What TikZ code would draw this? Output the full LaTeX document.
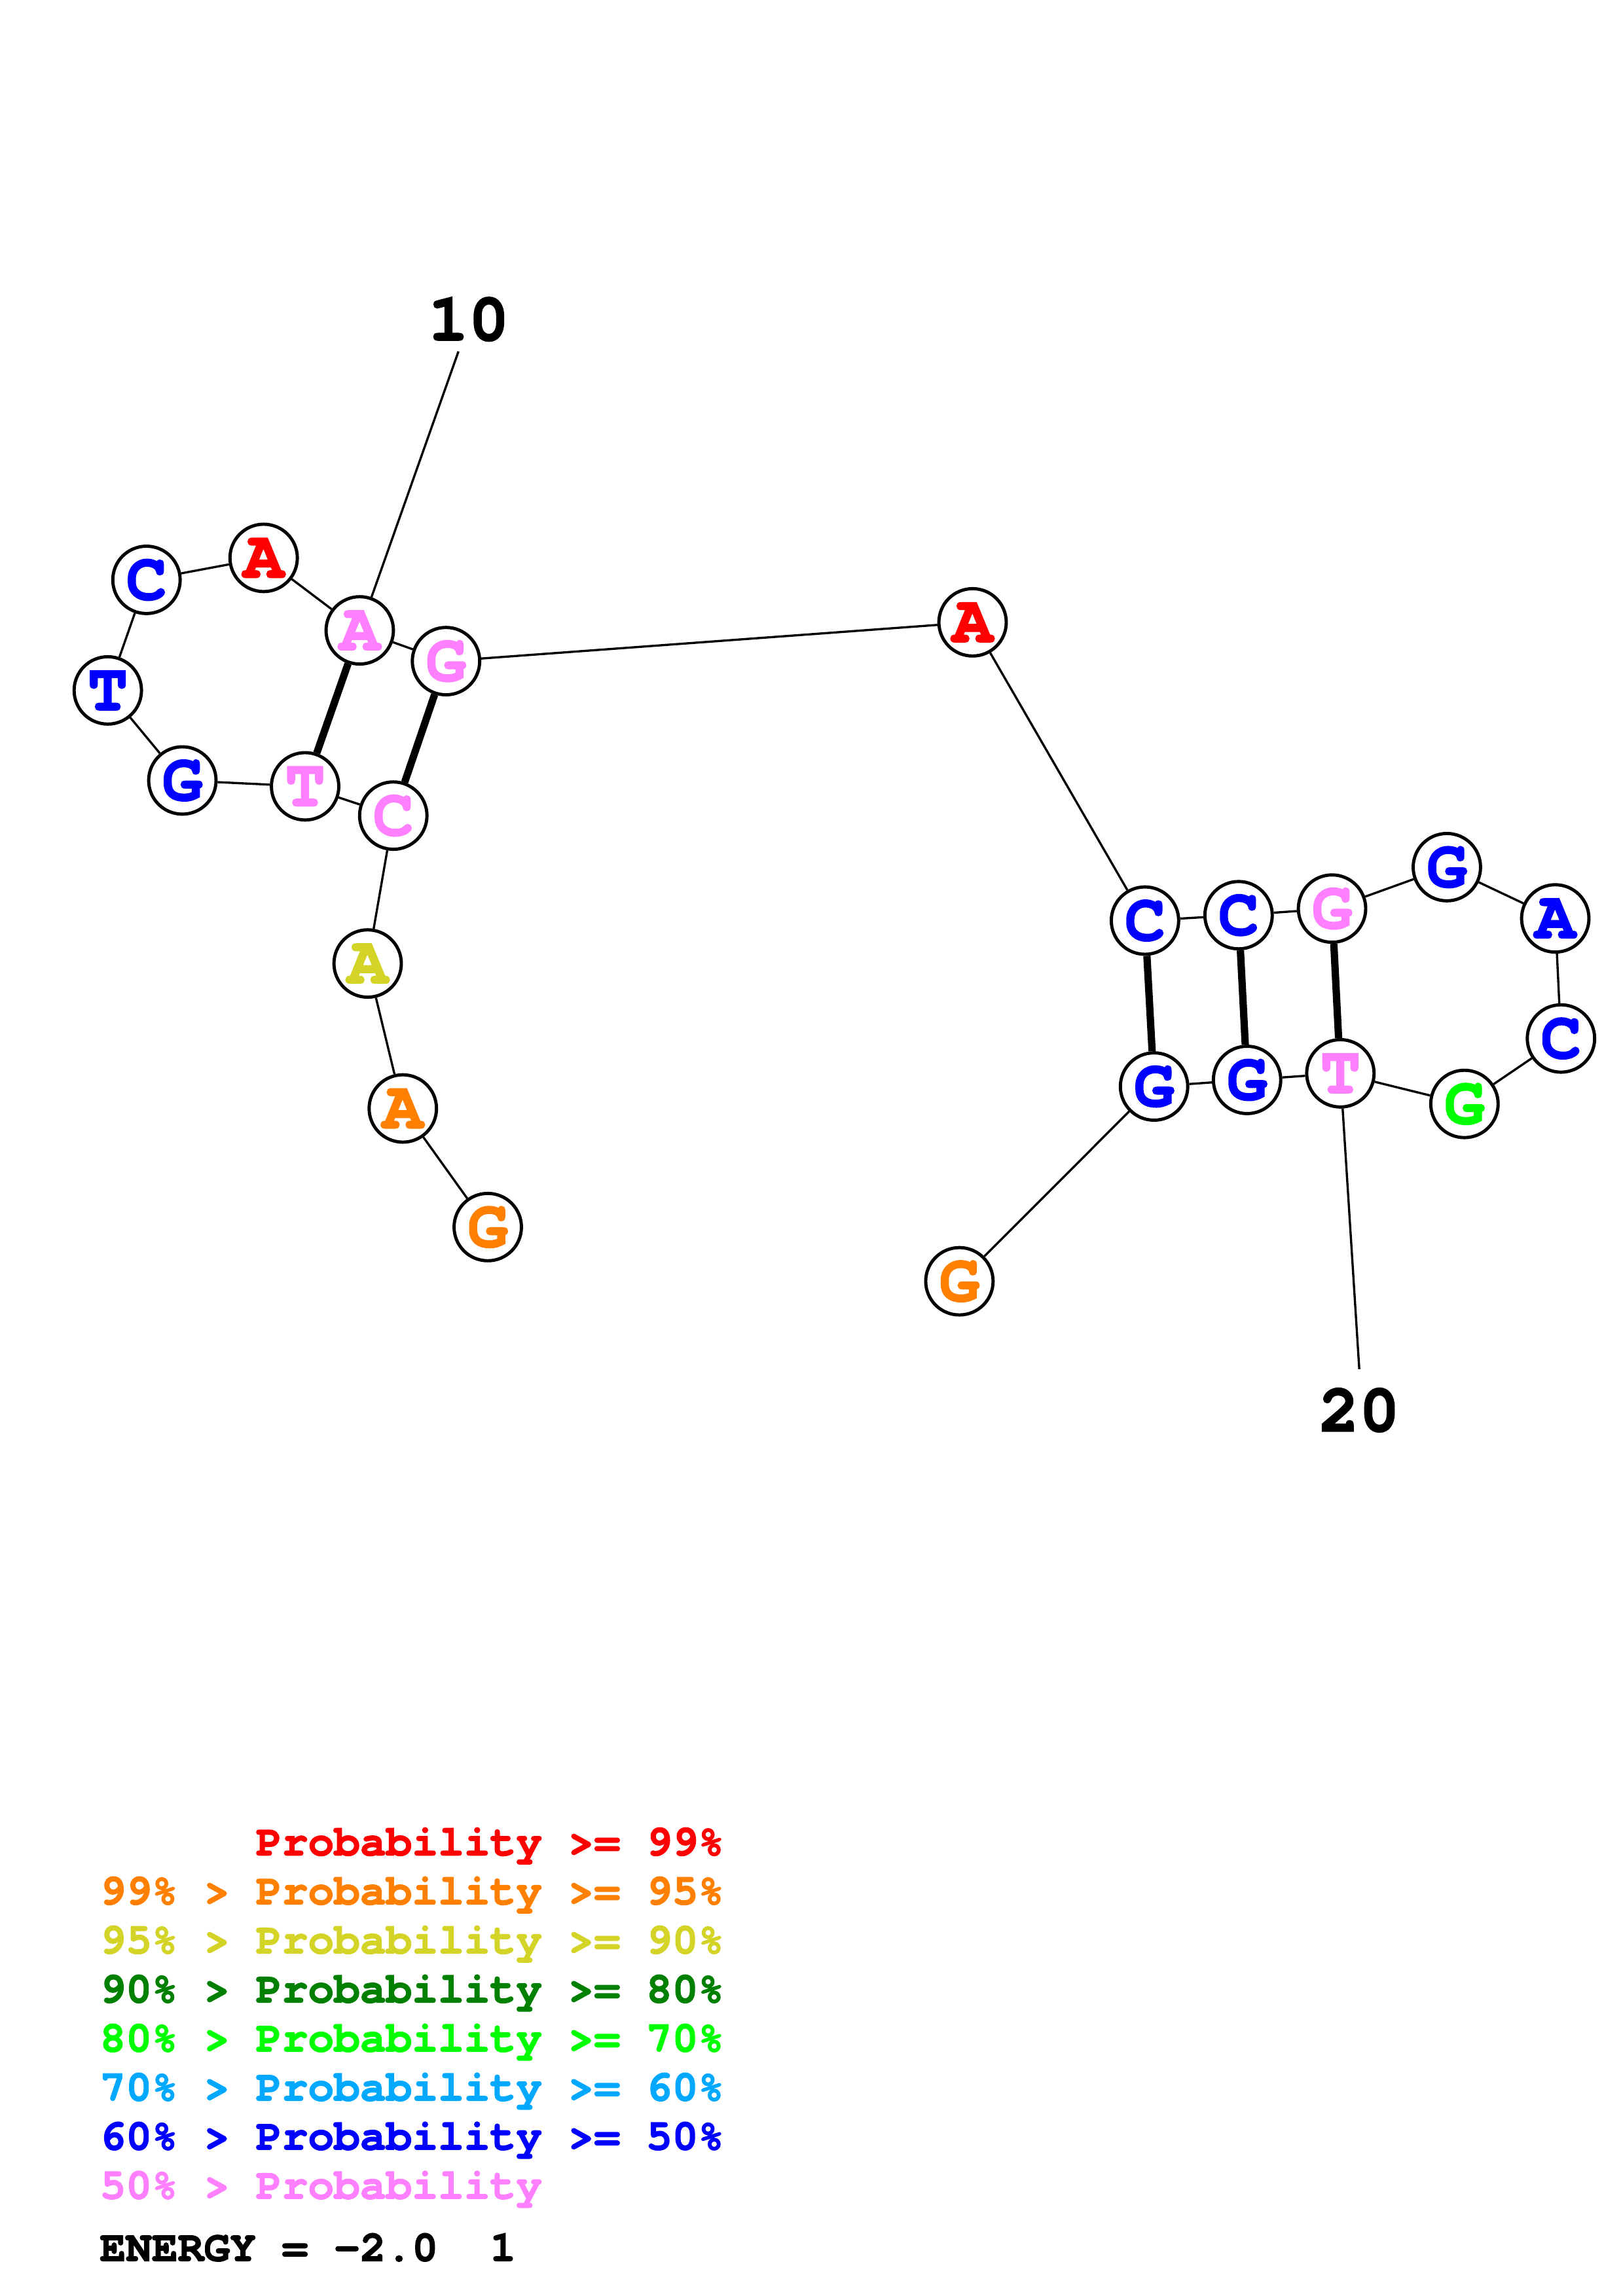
\documentclass[tikz,border=0pt]{standalone}
\usepackage{fontspec}
\setmonofont[BoldFeatures={FakeBold=2}]{TeX Gyre Cursor}
\usetikzlibrary{calc}
\definecolor{pred}{RGB}{255,0,0}
\definecolor{porange}{RGB}{255,128,0}
\definecolor{pyellow}{RGB}{212,212,40}
\definecolor{pdkgreen}{RGB}{0,128,0}
\definecolor{pgreen}{RGB}{0,255,0}
\definecolor{plblue}{RGB}{0,168,255}
\definecolor{pblue}{RGB}{0,0,255}
\definecolor{ppink}{RGB}{255,128,255}
\tikzset{
  nuc/.style={circle,draw=black,line width=2.2pt,fill=white,minimum size=46pt,inner sep=0pt,
    font=\ttfamily\bfseries\fontsize{46}{46}\selectfont},
  bb/.style={line width=1.5pt},
  bp/.style={line width=5pt},
  numlab/.style={font=\ttfamily\bfseries\fontsize{46}{46}\selectfont},
  legend/.style={anchor=base west,inner sep=0pt,font=\ttfamily\bfseries\fontsize{29.6}{29.6}\selectfont}
}
\newcommand{\nuc}[5]{\node[nuc,text=#4] (#1) at (#2,#3) {#5};}

\begin{document}
\begin{tikzpicture}[x=1pt,y=-1pt]
    \useasboundingbox[fill=white] (0,0) rectangle (1108,1568);
    % nucleotides
    \nuc{n1}{333}{838}{porange}{G}
    \nuc{n2}{275}{757}{porange}{A}
    \nuc{n3}{251}{658}{pyellow}{A}
    \nuc{n4}{268.5}{557}{ppink}{C}
    \nuc{n5}{208.3}{537}{ppink}{T}
    \nuc{n6}{124.5}{533}{pblue}{G}
    \nuc{n7}{73.6}{471.5}{pblue}{T}
    \nuc{n8}{100}{396}{pblue}{C}
    \nuc{n9}{180}{381}{pred}{A}
    \nuc{n10}{245.6}{430.5}{ppink}{A}
    \nuc{n11}{304.5}{451.5}{ppink}{G}
    \nuc{n12}{664}{425}{pred}{A}
    \nuc{n13}{781.7}{628.7}{pblue}{C}
    \nuc{n14}{845.6}{625}{pblue}{C}
    \nuc{n15}{909.4}{620.5}{ppink}{G}
    \nuc{n16}{987.8}{592.2}{pblue}{G}
    \nuc{n17}{1061.8}{627.2}{pblue}{A}
    \nuc{n18}{1065.7}{709.2}{pblue}{C}
    \nuc{n19}{999.8}{753.9}{pgreen}{G}
    \nuc{n20}{915.1}{733}{ppink}{T}
    \nuc{n21}{851.4}{737.5}{pblue}{G}
    \nuc{n22}{787.9}{742}{pblue}{G}
    \nuc{n23}{655}{875}{porange}{G}
    % backbone
    \draw[bb] (n1) -- (n2) -- (n3) -- (n4) -- (n5) -- (n6) -- (n7) -- (n8) -- (n9) -- (n10) -- (n11) -- (n12);
    \draw[bb] (n12) -- (n13) -- (n14) -- (n15) -- (n16) -- (n17) -- (n18) -- (n19) -- (n20) -- (n21) -- (n22) -- (n23);
    % pairs
    \draw[bp] (n10) -- (n5);
    \draw[bp] (n11) -- (n4);
    \draw[bp] (n13) -- (n22);
    \draw[bp] (n14) -- (n21);
    \draw[bp] (n15) -- (n20);
    % numbering
    \node[numlab] (l10) at (320,218) {10};
    \coordinate (e10) at (313,240);
    \draw[bb] (n10) -- (e10);
    \node[numlab] (l20) at (928,963) {20};
    \coordinate (e20) at (928,935);
    \draw[bb] (n20) -- (e20);
    % legend
    \node[legend,text=pred] (g1) at (174.6,1267) {Probability >= 99\%};
    \node[legend,text=porange] (g2) at (68,1300.5) {99\% > Probability >= 95\%};
    \node[legend,text=pyellow] (g3) at (68,1334) {95\% > Probability >= 90\%};
    \node[legend,text=pdkgreen] (g4) at (68,1367.5) {90\% > Probability >= 80\%};
    \node[legend,text=pgreen] (g5) at (68,1401) {80\% > Probability >= 70\%};
    \node[legend,text=plblue] (g6) at (68,1434.5) {70\% > Probability >= 60\%};
    \node[legend,text=pblue] (g7) at (68,1468) {60\% > Probability >= 50\%};
    \node[legend,text=ppink] (g8) at (68,1501.5) {50\% > Probability};
    \node[legend,text=black] (en) at (68,1544) {ENERGY = -2.0\ \ 1};
\end{tikzpicture}
\end{document}
